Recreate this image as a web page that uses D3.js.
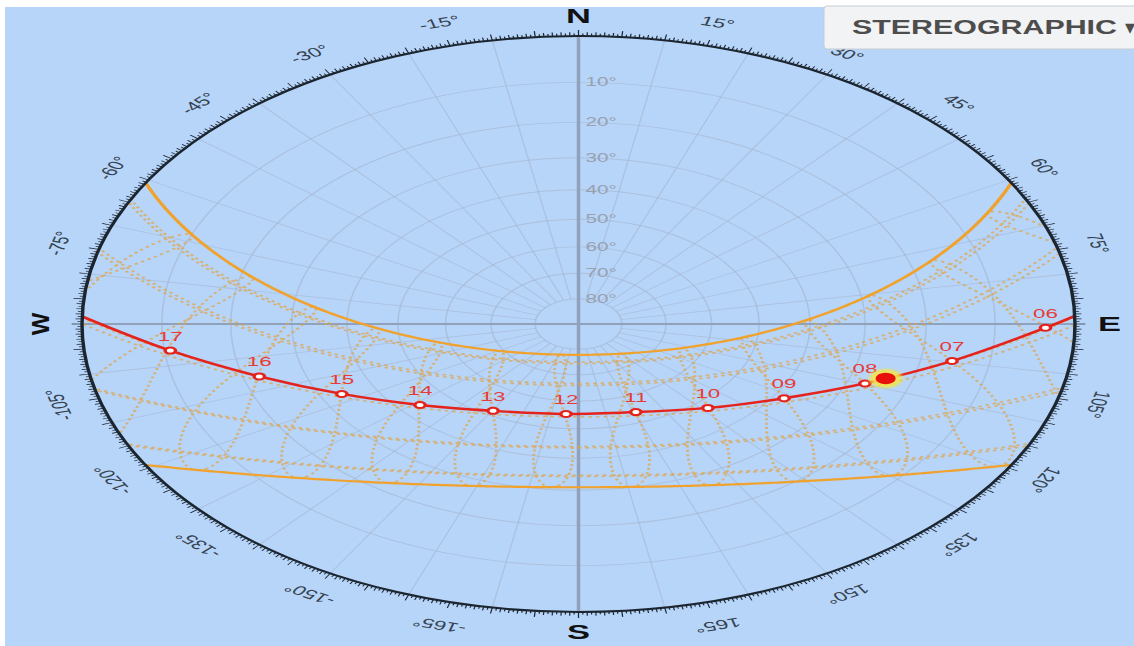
<!DOCTYPE html>
<html>
<head>
<meta charset="utf-8">
<script src="https://cdn.jsdelivr.net/npm/d3@7"></script>
<style>
  html, body { margin: 0; padding: 0; background: #fff; overflow: hidden; }
  text { font-family: "Liberation Sans", Arial, sans-serif; }
</style>
</head>
<body>
<svg id="chart" width="1134" height="646"></svg>
<script>
// ---- Site (Tokyo) ----
const latitude = 35.68;
const longitude = 139.69;
const timeZone = 9;

// ---- Current day sun path: clock hour, azimuth (deg from N), altitude (deg) ----
const pathHours    = ["06", "07", "08", "09", "10", "11", "12", "13", "14", "15", "16", "17"];
const pathAzimuth  = [90.8, 99.7, 109.7, 121.9, 138.2, 159.3, 184.6, 209.7, 228.6, 243.0, 254.2, 263.6];
const pathAltitude = [3.5, 15.3, 27.0, 38.0, 47.3, 53.8, 55.2, 51.7, 43.9, 33.7, 22.5, 10.8];
const horizonAzimuth = [88.4, 271.5];          // sunrise, sunset
const sunNow = { azimuth: 107.0, altitude: 24.2 };

// ---- Reference dates: 21st of each month (day of year) ----
const monthNames = ["Jan", "Feb", "Mar", "Apr", "May", "Jun", "Jul", "Aug", "Sep", "Oct", "Nov", "Dec"];
const monthDays  = [21, 52, 80, 111, 141, 172, 202, 233, 264, 294, 325, 355];
const solsticeMonths = ["Jun", "Dec"];

// ---- Clock hours drawn as analemmas ----
const analemmaHours = [4, 5, 6, 7, 8, 9, 10, 11, 12, 13, 14, 15, 16, 17, 18, 19, 20];

// ---- Axis labels ----
const altitudeRings = [10, 20, 30, 40, 50, 60, 70, 80];
const azimuthLabels = [15, 30, 45, 60, 75, 105, 120, 135, 150, 165,
                       -15, -30, -45, -60, -75, -105, -120, -135, -150, -165];
const compassLabels = ["N", "E", "S", "W"];
const compassAzimuth = [0, 90, 180, -90];

// ---- Layout ----
const W = 1134, H = 646;
const R = 288;                  // horizon radius
const sx = 496.5 / R;           // horizontal stretch of the whole drawing
const cx = 578.5 / sx, cy = 324;
const rad = Math.PI / 180;

const svg = d3.select("#chart");
svg.append("rect").attr("width", W).attr("height", H).attr("fill", "#ffffff");
svg.append("rect").attr("x", 5).attr("y", 7).attr("width", W - 5).attr("height", H - 7).attr("fill", "#b7d4f9");

const root = svg.append("g").attr("transform", `scale(${sx},1)`);

// unit-disc scales (east right, north up)
const x = d3.scaleLinear().domain([-1, 1]).range([cx - R, cx + R]);
const y = d3.scaleLinear().domain([-1, 1]).range([cy + R, cy - R]);
const stereo = alt => Math.tan((90 - alt) / 2 * rad);
function project(az, alt) {
  const r = stereo(alt);
  return [x(r * Math.sin(az * rad)), y(r * Math.cos(az * rad))];
}
function polar(az, k) {
  return [x(k * Math.sin(az * rad)), y(k * Math.cos(az * rad))];
}

// solar position for a day of year and clock time
function sunPosition(doy, clock) {
  const g = 2 * Math.PI / 365 * (doy - 1 + (clock - 12) / 24);
  const eot = 229.18 * (0.000075 + 0.001868 * Math.cos(g) - 0.032077 * Math.sin(g)
            - 0.014615 * Math.cos(2 * g) - 0.040849 * Math.sin(2 * g));
  const dec = 0.006918 - 0.399912 * Math.cos(g) + 0.070257 * Math.sin(g)
            - 0.006758 * Math.cos(2 * g) + 0.000907 * Math.sin(2 * g)
            - 0.002697 * Math.cos(3 * g) + 0.00148 * Math.sin(3 * g);
  const tst = clock * 60 + eot + 4 * longitude - 60 * timeZone;
  const ha = (tst / 4 - 180) * rad;
  const phi = latitude * rad;
  const sinAlt = Math.sin(phi) * Math.sin(dec) + Math.cos(phi) * Math.cos(dec) * Math.cos(ha);
  const alt = Math.asin(sinAlt) / rad;
  const A = Math.atan2(Math.sin(ha) * Math.cos(dec),
                       Math.cos(ha) * Math.cos(dec) * Math.sin(phi) - Math.sin(dec) * Math.cos(phi));
  return { az: A / rad + 180, alt };
}

const defs = svg.append("defs");
defs.append("clipPath").attr("id", "sky")
  .append("circle").attr("cx", cx).attr("cy", cy).attr("r", R);
const glow = defs.append("filter").attr("id", "glow").attr("x", "-50%").attr("y", "-50%").attr("width", "200%").attr("height", "200%");
glow.append("feGaussianBlur").attr("stdDeviation", 1.2);

const sky = root.append("g").attr("clip-path", "url(#sky)");

// ---- Grid: altitude rings and azimuth spokes ----
const gridColor = "#a3b4cb";
sky.append("g").selectAll("circle").data(altitudeRings).join("circle")
  .attr("cx", cx).attr("cy", cy)
  .attr("r", d => x(stereo(d)) - x(0))
  .attr("fill", "none").attr("stroke", gridColor).attr("stroke-width", 0.9).attr("opacity", 0.6);

const spokes = d3.range(10, 360, 10).filter(a => a % 90 !== 0);
sky.append("g").selectAll("line").data(spokes).join("line")
  .attr("x1", d => project(d, 0)[0]).attr("y1", d => project(d, 0)[1])
  .attr("x2", d => project(d, 80)[0]).attr("y2", d => project(d, 80)[1])
  .attr("stroke", gridColor).attr("stroke-width", 0.8).attr("opacity", 0.55);

// main N-S / E-W axes
[[0, 180], [90, 270]].forEach(([a, b]) => {
  sky.append("line")
    .attr("x1", project(a, 0)[0]).attr("y1", project(a, 0)[1])
    .attr("x2", project(b, 0)[0]).attr("y2", project(b, 0)[1])
    .attr("stroke", "#8fa1bb").attr("stroke-width", 2);
});

// altitude labels along the north axis
root.append("g").selectAll("text").data(altitudeRings).join("text")
  .attr("x", x(0) + 4)
  .attr("y", d => y(stereo(d)))
  .attr("dominant-baseline", "central")
  .attr("font-size", 12).attr("fill", "#98a1ae")
  .text(d => d + "\u00B0");

// ---- Monthly date lines and analemmas ----
const skyLine = d3.line().defined(p => p.alt > -50)
  .x(p => project(p.az, p.alt)[0]).y(p => project(p.az, p.alt)[1]);

const dayClock = d3.range(0, 24.001, 0.05);
const dotted = sky.append("g").attr("fill", "none").attr("stroke", "#e2a444")
  .attr("stroke-width", 1.7).attr("stroke-dasharray", "2 2.4").attr("opacity", 0.7);

monthNames.forEach((m, i) => {
  if (solsticeMonths.includes(m)) return;
  dotted.append("path").attr("d", skyLine(dayClock.map(t => sunPosition(monthDays[i], t))));
});

const yearDays = d3.range(1, 366, 1);
analemmaHours.forEach(h => {
  const pts = yearDays.map(dd => sunPosition(dd, h));
  pts.push(pts[0]);
  dotted.append("path").attr("d", skyLine(pts));
});

// solstice paths
monthNames.forEach((m, i) => {
  if (!solsticeMonths.includes(m)) return;
  sky.append("path")
    .attr("d", skyLine(dayClock.map(t => sunPosition(monthDays[i], t))))
    .attr("fill", "none").attr("stroke", "#f0a22c").attr("stroke-width", 2.2);
});

// ---- Current day path ----
const pathPoints = [{ az: horizonAzimuth[0], alt: 0 }]
  .concat(pathHours.map((h, i) => ({ az: pathAzimuth[i], alt: pathAltitude[i] })))
  .concat([{ az: horizonAzimuth[1], alt: 0 }]);

root.append("path")
  .attr("d", d3.line().curve(d3.curveCatmullRom.alpha(0.5))
    .x(p => project(p.az, p.alt)[0]).y(p => project(p.az, p.alt)[1])(pathPoints))
  .attr("fill", "none").attr("stroke", "#e5231d").attr("stroke-width", 2.4);

const markers = root.append("g");
pathHours.forEach((h, i) => {
  const [px, py] = project(pathAzimuth[i], pathAltitude[i]);
  markers.append("circle").attr("cx", px).attr("cy", py).attr("r", 3)
    .attr("fill", "#ffffff").attr("stroke", "#e5231d").attr("stroke-width", 2);
  markers.append("text").attr("x", px).attr("y", py - 10)
    .attr("text-anchor", "middle").attr("font-size", 13).attr("fill", "#e63b36")
    .text(h);
});

// current sun position
const [sxp, syp] = project(sunNow.azimuth, sunNow.altitude);
root.append("circle").attr("cx", sxp).attr("cy", syp).attr("r", 9.5)
  .attr("fill", "#f4e64a").attr("opacity", 0.9).attr("filter", "url(#glow)");
root.append("circle").attr("cx", sxp).attr("cy", syp).attr("r", 5.8).attr("fill", "#e8110c");

// ---- Horizon ring, ticks and azimuth labels ----
root.append("circle").attr("cx", cx).attr("cy", cy).attr("r", R)
  .attr("fill", "none").attr("stroke", "#1c2630").attr("stroke-width", 2);

const tickDeg = d3.range(0, 360, 0.5);
root.append("g").selectAll("line").data(tickDeg).join("line")
  .each(function (d) {
    const len = d % 5 === 0 ? 6 : (d % 1 === 0 ? 3.8 : 2.6);
    const [x1, y1] = polar(d, 1);
    const [x2, y2] = polar(d, (R + len) / R);
    d3.select(this).attr("x1", x1).attr("y1", y1).attr("x2", x2).attr("y2", y2);
  })
  .attr("stroke", "#1c2630").attr("stroke-width", 0.7);

root.append("g").selectAll("text").data(azimuthLabels).join("text")
  .attr("transform", d => {
    const [px, py] = polar(d, (R + 24) / R);
    return `translate(${px},${py}) rotate(${d})`;
  })
  .attr("text-anchor", "middle").attr("dominant-baseline", "central")
  .attr("font-size", 13).attr("fill", "#34424f")
  .text(d => d + "\u00B0");

compassLabels.forEach((c, i) => {
  const a = compassAzimuth[i];
  const k = c === "W" ? (R + 24) / R : (R + 20) / R;
  const [px, py] = polar(a, k);
  const t = root.append("text")
    .attr("text-anchor", "middle").attr("dominant-baseline", "central")
    .attr("font-size", 20).attr("font-weight", "bold").attr("fill", "#111")
    .text(c);
  if (c === "W") {
    t.attr("transform", `translate(${px},${py}) scale(${1 / sx},1) rotate(-90)`).attr("font-size", 24);
  } else {
    t.attr("x", px).attr("y", py);
  }
});

// ---- Projection selector ----
const btn = svg.append("g");
btn.append("rect").attr("x", 824).attr("y", 6).attr("width", 330).attr("height", 43).attr("rx", 3)
  .attr("fill", "#f2f3f5").attr("stroke", "#c7ccd3");
btn.append("text").attr("x", 852).attr("y", 33.5)
  .attr("font-size", 21).attr("font-weight", "bold").attr("fill", "#4d4d4d")
  .attr("textLength", 265).attr("lengthAdjust", "spacingAndGlyphs")
  .text("STEREOGRAPHIC");
btn.append("text").attr("x", 1125).attr("y", 33.5)
  .attr("font-size", 20).attr("fill", "#4d4d4d").text("\u25BE");
</script>
</body>
</html>
